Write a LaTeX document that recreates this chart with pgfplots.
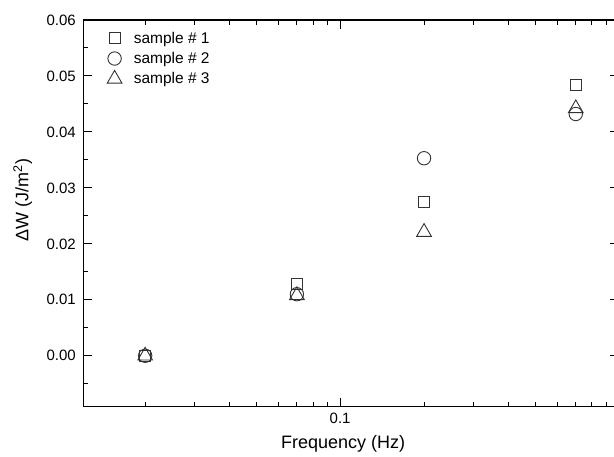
\documentclass[border=0pt]{standalone}
\usepackage{fontspec}
\setmainfont{Liberation Sans}
\usepackage{pgfplots}
\pgfplotsset{compat=1.18}
\definecolor{mk}{HTML}{333333}
\begin{document}
\begin{tikzpicture}
\useasboundingbox (-83.3pt,-50.3pt) rectangle ++(614pt,457pt);
\begin{axis}[
  xmode=log,
  scale only axis,
  width=535.7pt, height=386.7pt,
  xmin=0.012, xmax=1,
  ymin=-0.0091, ymax=0.06,
  xtick={0.1}, xticklabels={0.1},
  minor xtick={0.02,0.03,0.04,0.05,0.06,0.07,0.08,0.09,0.2,0.3,0.4,0.5,0.6,0.7,0.8,0.9},
  ytick={0,0.01,0.02,0.03,0.04,0.05,0.06},
  minor ytick={-0.005,0.005,0.015,0.025,0.035,0.045,0.055},
  scaled y ticks=false,
  yticklabel style={/pgf/number format/fixed, /pgf/number format/fixed zerofill,
    /pgf/number format/precision=2, /tikz/xshift=-4pt},
  /pgf/number format/assume math mode=true,
  tick label style={font=\fontsize{15}{18}\selectfont},
  xticklabel style={yshift=-3pt},
  tick align=inside,
  major tick length=9pt, minor tick length=5pt,
  tick style={black, line width=1pt},
  axis line style={line width=1.3pt},
  xlabel={Frequency (Hz)},
  ylabel={ΔW (J/m\textsuperscript{2})},
  label style={font=\fontsize{18}{22}\selectfont},
  xlabel style={at={(axis description cs:0.485,-0.095)}, anchor=center},
  ylabel style={at={(axis description cs:-0.113,0.5345)}, anchor=center},
  legend style={at={(axis description cs:0.0297,0.98)}, anchor=north west,
    draw=none, fill=none, font=\fontsize{15.5}{18}\selectfont,
    row sep=3.5pt},
  legend cell align=left,
  legend image code/.code={\draw[#1] plot coordinates {(0pt,0pt)}; \path (-12pt,0pt) (17pt,0pt);},
]
\addlegendimage{only marks, mark=square, mark size=5.5pt, mark options={draw=mk, fill=white, line width=0.9pt}}
\addlegendentry{sample \# 1}
\addlegendimage{only marks, mark=o, mark size=6.7pt, mark options={draw=mk, fill=white, line width=0.9pt}}
\addlegendentry{sample \# 2}
\addlegendimage{only marks, mark=triangle, mark size=8.5pt, mark options={draw=mk, fill=white, line width=0.9pt}}
\addlegendentry{sample \# 3}

% sample 3
\addplot[forget plot, only marks, mark=triangle, mark size=8.5pt, mark options={draw=mk, fill=white, line width=0.9pt}]
  coordinates {(0.02,0) (0.07,0.0108) (0.2,0.0221) (0.7,0.0442)};
% sample 1
\addplot[forget plot, only marks, mark=square, mark size=5.5pt, mark options={draw=mk, fill=white, line width=0.9pt}]
  coordinates {(0.02,0) (0.07,0.0129) (0.2,0.0275) (0.7,0.0484)};
% sample 2
\addplot[forget plot, only marks, mark=o, mark size=6.7pt, mark options={draw=mk, fill=white, line width=0.9pt}]
  coordinates {(0.02,0) (0.07,0.0110) (0.2,0.0353) (0.7,0.0432)};
\end{axis}
\end{tikzpicture}
\end{document}
